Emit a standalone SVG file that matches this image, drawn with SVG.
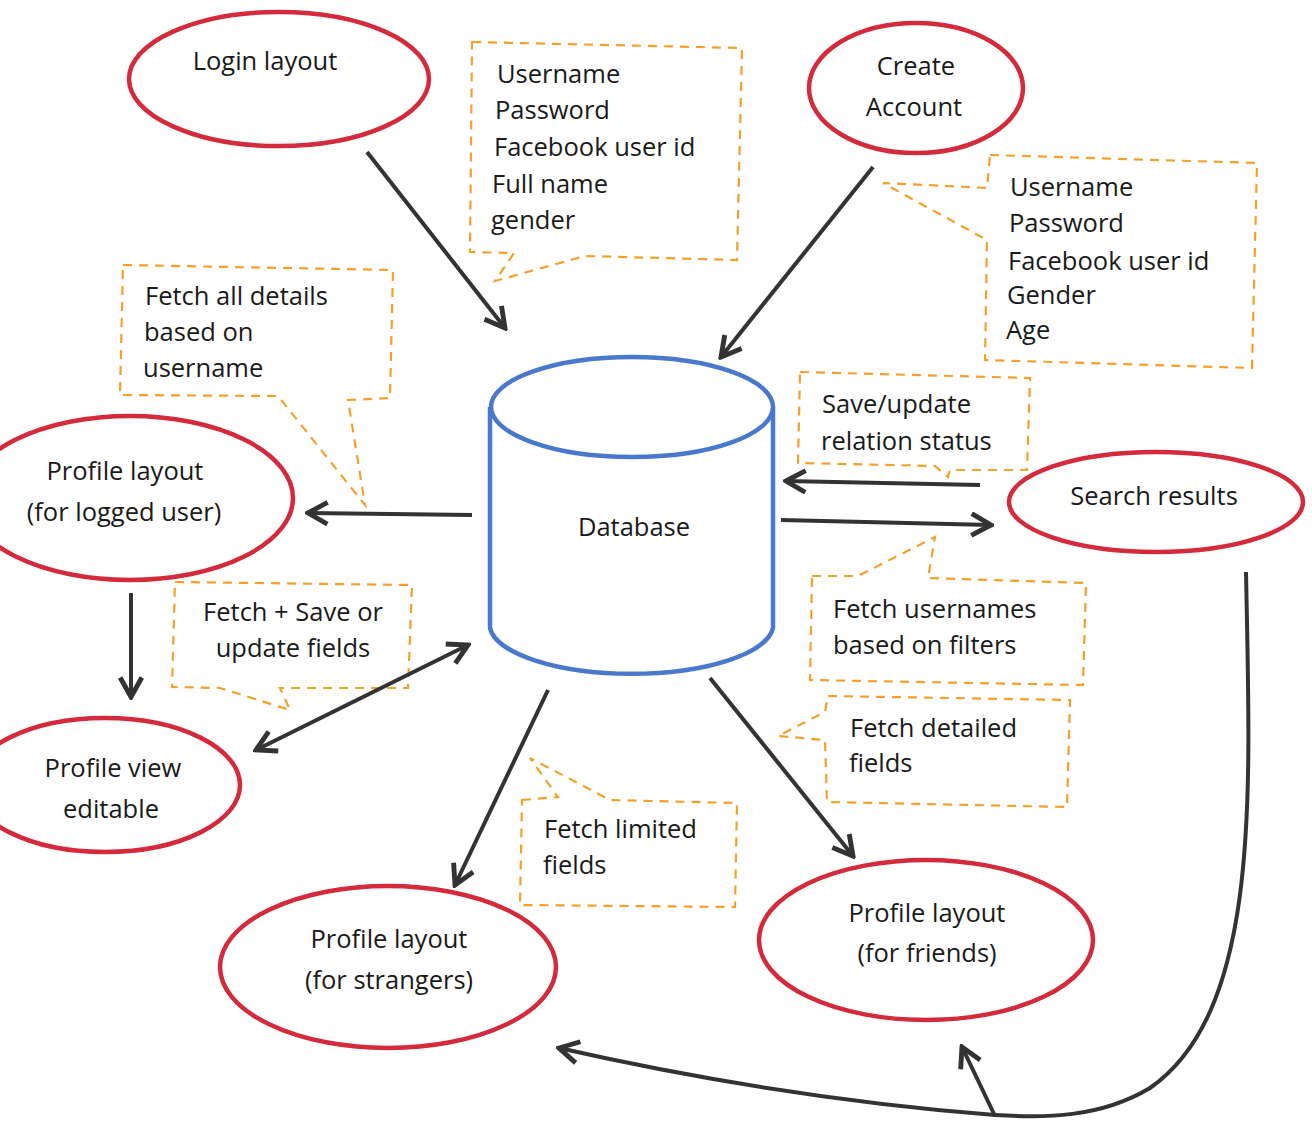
<svg xmlns="http://www.w3.org/2000/svg" width="1312" height="1122" viewBox="0 0 1312 1122">
<defs>
<marker id="arr" markerUnits="userSpaceOnUse" viewBox="0 0 24 24" markerWidth="26" markerHeight="26" refX="21" refY="12" orient="auto-start-reverse">
<path d="M3,2 L21,12 L3,22" fill="none" stroke="#333" stroke-width="4.5" stroke-linejoin="miter"/>
</marker>
</defs>
<style>
.node{fill:#fff;stroke:#d42a3c;stroke-width:4.5}
.db{fill:#fff;stroke:#4a78cc;stroke-width:4.5}
.call{fill:none;stroke:#f5a02a;stroke-width:2.2;stroke-dasharray:9,7}
.con{fill:none;stroke:#333;stroke-width:4;marker-end:url(#arr)}
text{font-family:"Open Sans","Noto Sans","Liberation Sans",sans-serif;font-size:25.5px;fill:#1a1a1a}
.c{text-anchor:middle}
</style>
<rect width="1312" height="1122" fill="#fff"/>

<g id="callouts">
<path class="call" d="M472,42 L742,48 L737,260 L585,256 L495,281 L514,253 L470,252 Z"/>
<path class="call" d="M990,155 L1257,163 L1252,368 L985,360 L987,240 L883,183 L987,188 Z"/>
<path class="call" d="M123,265 L393,270 L390,398 L348,400 L365,505 L278,396 L120,395 Z"/>
<path class="call" d="M800,372 L1030,378 L1027,470 L950,470 L948,477 L935,466 L798,463 Z"/>
<path class="call" d="M812,576 L858,576 L935,537 L928,578 L1086,583 L1083,685 L810,680 Z"/>
<path class="call" d="M828,696 L1070,700 L1067,807 L827,802 L825,740 L778,736 L825,712 Z"/>
<path class="call" d="M175,582 L412,585 L408,688 L280,688 L290,710 L220,688 L172,687 Z"/>
<path class="call" d="M522,800 L558,797 L530,758 L610,800 L737,803 L735,907 L520,905 Z"/>
</g>

<g id="callout-text">
<text x="497" y="83">Username</text>
<text x="495" y="119">Password</text>
<text x="494" y="156">Facebook user id</text>
<text x="492" y="193">Full name</text>
<text x="491" y="229">gender</text>
<text x="1010" y="196">Username</text>
<text x="1009" y="232">Password</text>
<text x="1008" y="270">Facebook user id</text>
<text x="1007" y="304">Gender</text>
<text x="1006" y="339">Age</text>
<text x="145" y="305">Fetch all details</text>
<text x="144" y="341">based on</text>
<text x="143" y="377">username</text>
<text x="822" y="413">Save/update</text>
<text x="821" y="450">relation status</text>
<text x="833" y="618">Fetch usernames</text>
<text x="833" y="654">based on filters</text>
<text x="850" y="737">Fetch detailed</text>
<text x="849" y="772">fields</text>
<text class="c" x="293" y="621">Fetch + Save or</text>
<text class="c" x="293" y="657">update fields</text>
<text x="544" y="838">Fetch limited</text>
<text x="543" y="874">fields</text>
</g>

<g id="connectors">
<line class="con" x1="367" y1="152" x2="505" y2="328"/>
<line class="con" x1="873" y1="167" x2="721" y2="357"/>
<line class="con" x1="472" y1="515" x2="308" y2="513"/>
<line class="con" x1="131" y1="593" x2="131" y2="697"/>
<line class="con" x1="468" y1="645" x2="256" y2="750" style="marker-start:url(#arr)"/>
<line class="con" x1="548" y1="690" x2="455" y2="885"/>
<line class="con" x1="710" y1="678" x2="853" y2="856"/>
<line class="con" x1="980" y1="485" x2="786" y2="481"/>
<line class="con" x1="781" y1="520" x2="991" y2="525"/>
<path class="con" d="M1246,572 C1250,790 1262,1010 1150,1088 C1100,1118 1045,1118 995,1115 Q780,1098 559,1048"/>
<line class="con" x1="995" y1="1116" x2="962" y2="1047"/>
</g>

<g id="database">
<path class="db" d="M490,407 L490,628 A142,50 0 0 0 773,628 L773,407"/>
<ellipse class="db" cx="632" cy="407" rx="141" ry="50"/>
<text class="c" x="634" y="536">Database</text>
</g>

<g id="login">
<ellipse class="node" cx="279" cy="79" rx="150" ry="67"/>
<text class="c" x="265" y="70">Login layout</text>
</g>
<g id="create-account">
<ellipse class="node" cx="916" cy="88" rx="107" ry="65"/>
<text class="c" x="916" y="75">Create</text>
<text class="c" x="914" y="116">Account</text>
</g>
<g id="profile-logged">
<ellipse class="node" cx="130" cy="498" rx="163" ry="82"/>
<text class="c" x="125" y="480">Profile layout</text>
<text class="c" x="124" y="521">(for logged user)</text>
</g>
<g id="profile-view">
<ellipse class="node" cx="105" cy="785" rx="135" ry="67"/>
<text class="c" x="113" y="777">Profile view</text>
<text class="c" x="111" y="818">editable</text>
</g>
<g id="profile-strangers">
<ellipse class="node" cx="388" cy="967" rx="168" ry="81"/>
<text class="c" x="389" y="948">Profile layout</text>
<text class="c" x="389" y="989">(for strangers)</text>
</g>
<g id="profile-friends">
<ellipse class="node" cx="926" cy="940" rx="167" ry="80"/>
<text class="c" x="927" y="922">Profile layout</text>
<text class="c" x="927" y="962">(for friends)</text>
</g>
<g id="search-results">
<ellipse class="node" cx="1156" cy="502" rx="147" ry="50"/>
<text class="c" x="1154" y="505">Search results</text>
</g>
</svg>
